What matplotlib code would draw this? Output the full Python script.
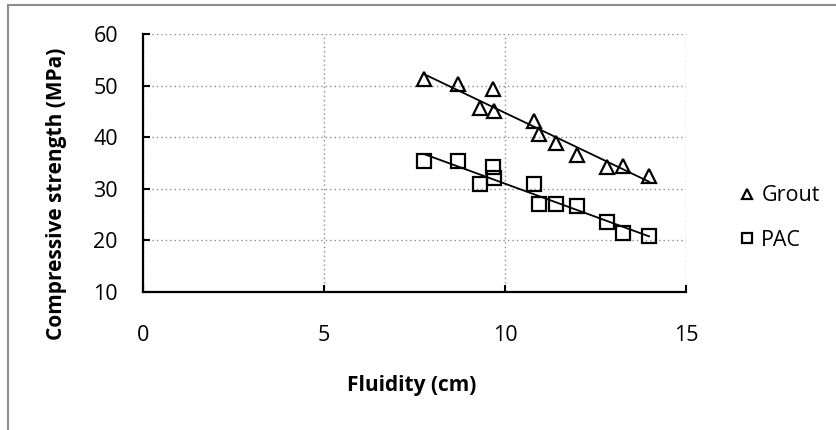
import numpy as np
import matplotlib
matplotlib.use("Agg")
import matplotlib.pyplot as plt
from matplotlib.patches import Rectangle

# Datos
fluidity = [7.76, 8.71, 9.31, 9.66, 9.69, 10.81, 10.95, 11.41, 11.98, 12.81, 13.27, 13.98]
grout = [51.2, 50.3, 45.7, 49.3, 45.1, 43.1, 40.6, 38.9, 36.6, 34.3, 34.4, 32.5]
pac = [35.3, 35.3, 30.9, 34.2, 32.0, 30.9, 27.0, 27.1, 26.7, 23.6, 21.5, 20.9]

x_ticks = [0, 5, 10, 15]
y_ticks = [10, 20, 30, 40, 50, 60]

plt.rcParams['font.family'] = ['Open Sans', 'DejaVu Sans']

fig = plt.figure(figsize=(8.37, 4.30), dpi=100)
ax = fig.add_axes([143 / 837, 1 - 292 / 430, 543 / 837, 258 / 430])

# marco gris del gráfico
fig.patches.append(Rectangle((8 / 837, -0.05), 1.1, 1 - 5 / 430 + 0.05,
                             transform=fig.transFigure, fill=False,
                             edgecolor='#8c8c8c', linewidth=1.5, clip_on=False))

x = np.array(fluidity)
for serie, marker, label in [(grout, '^', 'Grout'), (pac, 's', 'PAC')]:
    y = np.array(serie)
    ax.plot(x, y, linestyle='none', marker=marker, markersize=9.5,
            markerfacecolor='none', markeredgecolor='black',
            markeredgewidth=1.6, label=label, zorder=3)
    # línea de tendencia lineal
    m, b = np.polyfit(x, y, 1)
    xs = np.array([x.min(), x.max()])
    ax.plot(xs, m * xs + b, color='black', linewidth=1.3, zorder=2)

ax.set_xlim(0, 15)
ax.set_ylim(10, 60)
ax.set_xticks(x_ticks)
ax.set_yticks(y_ticks)

ax.grid(True, color='#8c8c8c', linestyle=(0, (1, 2.2)), linewidth=1)
ax.set_axisbelow(True)
for s in ['top', 'right']:
    ax.spines[s].set_visible(False)
for s in ['left', 'bottom']:
    ax.spines[s].set_linewidth(1.6)
    ax.spines[s].set_color('black')

ax.tick_params(axis='y', direction='in', length=5, width=1.5, pad=18, labelsize=15.5)
ax.tick_params(axis='x', direction='in', length=5, width=1.5, pad=24, labelsize=15.5)

fig.text(57 / 837, 1 - 194 / 430, 'Compressive strength (MPa)', rotation=90,
         ha='center', va='center', fontsize=15, fontweight='bold')
fig.text(412 / 837, 1 - 385 / 430, 'Fluidity (cm)', ha='center', va='center',
         fontsize=15, fontweight='bold')

fig.legend(loc='center left', bbox_to_anchor=(728 / 837, 1 - 218 / 430),
           frameon=False, fontsize=15.5, markerscale=0.72, handlelength=0.8,
           handletextpad=0.25, labelspacing=1.1, borderpad=0)

fig.savefig('out.png', dpi=100)
plt.close(fig)
